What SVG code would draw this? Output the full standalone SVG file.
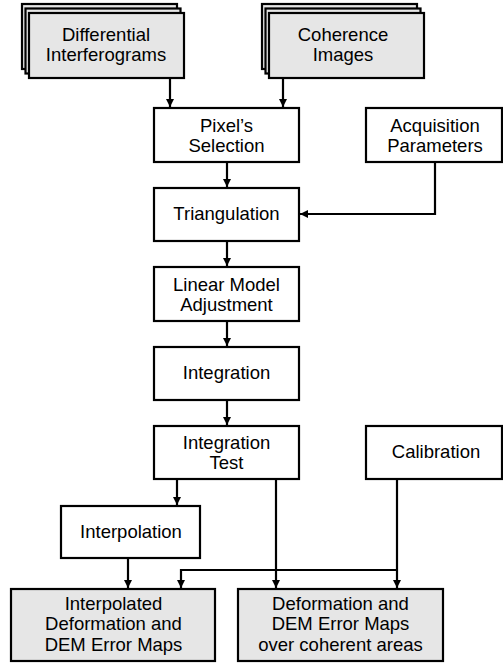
<svg xmlns="http://www.w3.org/2000/svg" width="503" height="665" viewBox="0 0 503 665">
<defs>
<style>
.box{fill:#ffffff;stroke:#000;stroke-width:2.2}
.g{fill:#e6e6e6;stroke:#000;stroke-width:2.2}
.t{font-family:"Liberation Sans",Arial,sans-serif;font-size:18.5px;fill:#000;text-anchor:middle}
.c{fill:none;stroke:#000;stroke-width:2.2}
</style>
<marker id="ah" markerUnits="userSpaceOnUse" markerWidth="9" markerHeight="9" refX="8" refY="4" orient="auto">
<path d="M0,0 L8,4 L0,8 z" fill="#000"/>
</marker>
</defs>
<rect width="503" height="665" fill="#fff"/>
<g id="connectors">
<path class="c" d="M170,78 V107" marker-end="url(#ah)"/>
<path class="c" d="M283,78 V107" marker-end="url(#ah)"/>
<path class="c" d="M227,162 V187" marker-end="url(#ah)"/>
<path class="c" d="M435,162 V214 H300" marker-end="url(#ah)"/>
<path class="c" d="M227,241 V266" marker-end="url(#ah)"/>
<path class="c" d="M227,321 V346" marker-end="url(#ah)"/>
<path class="c" d="M227,400 V425" marker-end="url(#ah)"/>
<path class="c" d="M177,479 V505" marker-end="url(#ah)"/>
<path class="c" d="M276,479 V588" marker-end="url(#ah)"/>
<path class="c" d="M397,479 V588" marker-end="url(#ah)"/>
<path class="c" d="M397,570 H181 V588" marker-end="url(#ah)"/>
<path class="c" d="M128,558 V588" marker-end="url(#ah)"/>
</g>
<g id="differential">
<rect class="g" x="22" y="4" width="155" height="65"/>
<rect class="g" x="25.5" y="8.5" width="155" height="65"/>
<rect class="g" x="29" y="13" width="155" height="65"/>
<text class="t" x="106" y="41">Differential</text>
<text class="t" x="106" y="61">Interferograms</text>
</g>
<g id="coherence">
<rect class="g" x="262" y="4" width="155" height="65"/>
<rect class="g" x="265.5" y="8.5" width="155" height="65"/>
<rect class="g" x="269" y="13" width="155" height="65"/>
<text class="t" x="343" y="41">Coherence</text>
<text class="t" x="343" y="61">Images</text>
</g>
<g id="pixels">
<rect class="box" x="154" y="108" width="145" height="54"/>
<text class="t" x="226.5" y="131.5">Pixel’s</text>
<text class="t" x="226.5" y="151.5">Selection</text>
</g>
<g id="acquisition">
<rect class="box" x="366" y="108" width="136" height="54"/>
<text class="t" x="435" y="131.5">Acquisition</text>
<text class="t" x="435" y="151.5">Parameters</text>
</g>
<g id="triangulation">
<rect class="box" x="154" y="188" width="145" height="53"/>
<text class="t" x="226.5" y="220">Triangulation</text>
</g>
<g id="linear">
<rect class="box" x="154" y="267" width="145" height="54"/>
<text class="t" x="226.5" y="290.5">Linear Model</text>
<text class="t" x="226.5" y="310.5">Adjustment</text>
</g>
<g id="integration">
<rect class="box" x="154" y="347" width="145" height="53"/>
<text class="t" x="226.5" y="379">Integration</text>
</g>
<g id="integrationtest">
<rect class="box" x="154" y="426" width="145" height="53"/>
<text class="t" x="226.5" y="449">Integration</text>
<text class="t" x="226.5" y="469">Test</text>
</g>
<g id="calibration">
<rect class="box" x="366" y="426" width="136" height="53"/>
<text class="t" x="436" y="458">Calibration</text>
</g>
<g id="interpolation">
<rect class="box" x="61" y="506" width="139" height="52"/>
<text class="t" x="131" y="538">Interpolation</text>
</g>
<g id="interpolated">
<rect class="g" x="11" y="589" width="204" height="72"/>
<text class="t" x="113.5" y="609.5">Interpolated</text>
<text class="t" x="113.5" y="630">Deformation and</text>
<text class="t" x="113.5" y="650.5">DEM Error Maps</text>
</g>
<g id="deformation">
<rect class="g" x="238" y="589" width="205" height="72"/>
<text class="t" x="340.5" y="609.5">Deformation and</text>
<text class="t" x="340.5" y="630">DEM Error Maps</text>
<text class="t" x="340.5" y="650.5">over coherent areas</text>
</g>
</svg>
